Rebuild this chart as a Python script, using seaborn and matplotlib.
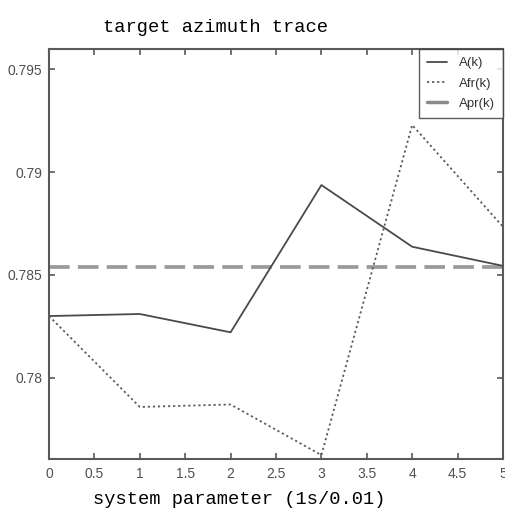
import numpy as np
import pandas as pd
import matplotlib
matplotlib.use("Agg")
import matplotlib.pyplot as plt
from matplotlib.lines import Line2D
import seaborn as sns

# Sample steps and azimuth estimates
steps = [0, 1, 2, 3, 4, 5]
a_k = [0.7830, 0.7831, 0.78221, 0.78937, 0.78637, 0.78544]
afr_k = [0.7830, 0.77858, 0.7787, 0.77624, 0.79229, 0.78734]
apr_value = 0.785398  # reference azimuth (pi/4)
apr_k = [apr_value] * len(steps)

x_ticks = [0, 0.5, 1, 1.5, 2, 2.5, 3, 3.5, 4, 4.5, 5]
x_tick_labels = ["0", "0.5", "1", "1.5", "2", "2.5", "3", "3.5", "4", "4.5", "5"]
y_ticks = [0.78, 0.785, 0.79, 0.795]
y_tick_labels = ["0.78", "0.785", "0.79", "0.795"]

df = pd.DataFrame({"k": steps, "A(k)": a_k, "Afr(k)": afr_k, "Apr(k)": apr_k})

sns.set_style("white")
plt.rcParams["font.family"] = ["Liberation Sans", "DejaVu Sans"]

W, H = 506, 509
fig = plt.figure(figsize=(W / 100, H / 100), dpi=100)
L, R, T, B = 49, 503, 49.3, 459
ax = fig.add_axes([L / W, 1 - B / H, (R - L) / W, (B - T) / H])

frame_col = "#5a5a5a"

sns.lineplot(data=df, x="k", y="Apr(k)", ax=ax, color="#9a9a9a", linewidth=2.7,
             dashes=False, zorder=2)
ax.lines[-1].set_dashes([5.5, 2.2])
sns.lineplot(data=df, x="k", y="A(k)", ax=ax, color="#4a4a4a", linewidth=1.3, zorder=3)
sns.lineplot(data=df, x="k", y="Afr(k)", ax=ax, color="#5a5a5a", linewidth=1.3, zorder=3)
ax.lines[-1].set_dashes([1.2, 1.6])

ax.set_xlim(0, 5)
ax.set_ylim(0.77605, 0.79597)
ax.set_xticks(x_ticks)
ax.set_xticklabels(x_tick_labels)
ax.set_yticks(y_ticks)
ax.set_yticklabels(y_tick_labels)
ax.tick_params(direction="in", length=4, width=1.2, color=frame_col,
               labelsize=10, labelcolor="#505050", top=True, right=True,
               bottom=True, left=True)
ax.tick_params(axis="x", pad=6)
ax.tick_params(axis="y", pad=5)
for s in ax.spines.values():
    s.set_visible(True)
    s.set_color(frame_col)
    s.set_linewidth(1.5)

ax.set_xlabel("")
ax.set_ylabel("")

mono = ["Liberation Mono", "DejaVu Sans Mono"]
fig.text(216 / W, 1 - 27.5 / H, "target azimuth trace", family=mono, fontsize=13.5,
         ha="center", va="center", color="black")
fig.text(239 / W, 1 - 499 / H, "system parameter (1s/0.01)", family=mono, fontsize=13.5,
         ha="center", va="center", color="black")

handles = [
    Line2D([], [], color="#4a4a4a", linewidth=1.3),
    Line2D([], [], color="#5a5a5a", linewidth=1.3, dashes=[1.2, 1.6]),
    Line2D([], [], color="#8a8a8a", linewidth=2.5),
]
leg = ax.legend(handles, ["A(k)", "Afr(k)", "Apr(k)"], loc="upper right",
                bbox_to_anchor=(1.0, 1.0), fontsize=9.5, frameon=True,
                fancybox=False, borderaxespad=0, handlelength=1.5,
                handletextpad=0.9, labelspacing=0.6, borderpad=0.6)
leg.get_frame().set_edgecolor("#333333")
leg.get_frame().set_linewidth(1.0)
for t in leg.get_texts():
    t.set_color("#333333")

fig.savefig("out.png", dpi=100)
